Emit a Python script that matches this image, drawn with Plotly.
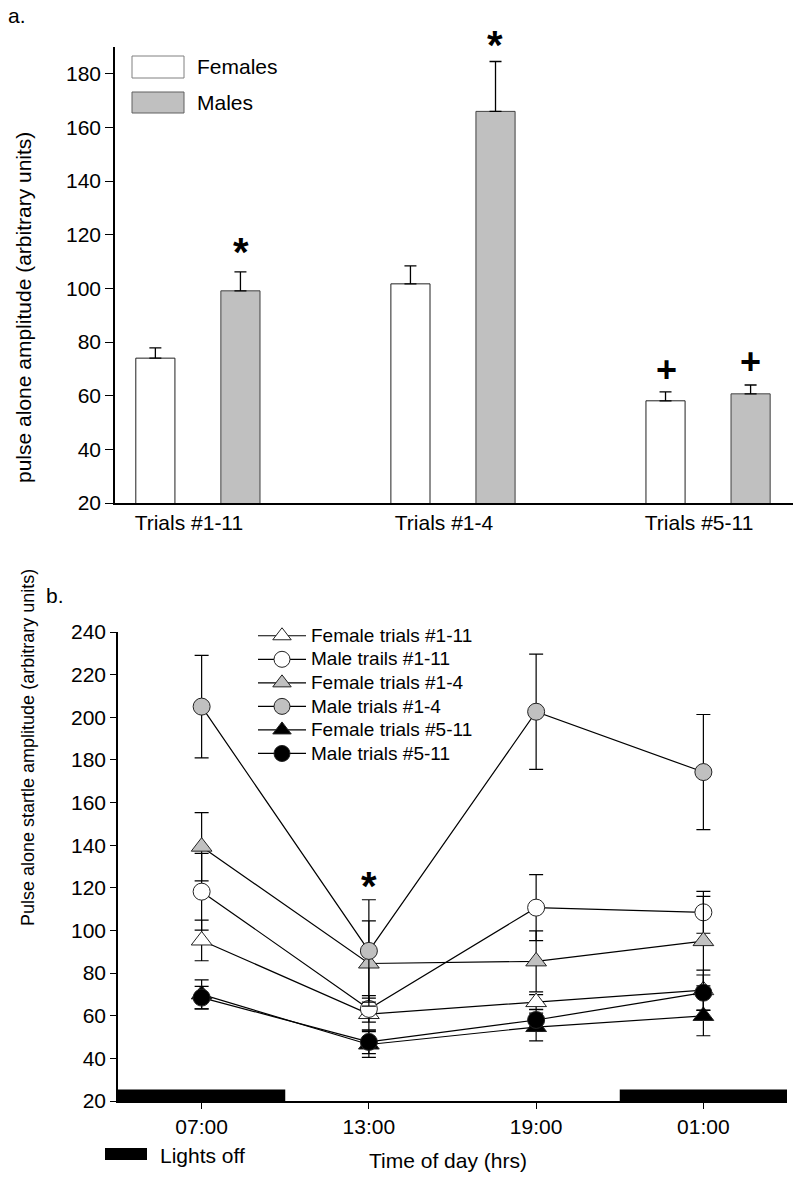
import plotly.graph_objects as go

W, H = 800, 1181
FONT = "Liberation Sans, Arial, Helvetica, sans-serif"

# ---------------- Panel a data ----------------
groups = ["Trials #1-11", "Trials #1-4", "Trials #5-11"]
female_amp = [74.0, 101.7, 58.1]
female_err = [3.8, 6.7, 3.3]
male_amp = [99.1, 166.0, 60.7]
male_err = [7.1, 18.6, 3.3]
a_yticks = [20, 40, 60, 80, 100, 120, 140, 160, 180]

# ---------------- Panel b data ----------------
time_hours = [7, 13, 19, 25]
time_labels = ["07:00", "13:00", "19:00", "01:00"]
lights_off_start = [4, 22]
lights_off_end = [10, 28]
b_yticks = [20, 40, 60, 80, 100, 120, 140, 160, 180, 200, 220, 240]

series_names = ["Female trials #1-11", "Male trails #1-11", "Female trials #1-4",
                "Male trials #1-4", "Female trials #5-11", "Male trials #5-11"]
f_1_11 = [95.3, 60.8, 66.4, 72.0]
f_1_11_err = [9.5, 7.5, 3.5, 9.4]
m_1_11 = [118.2, 63.2, 110.7, 108.5]
m_1_11_err = [18.0, 6.2, 15.5, 9.8]
f_1_4 = [139.3, 84.5, 85.5, 95.0]
f_1_4_err = [16.0, 20.0, 14.3, 21.0]
m_1_4 = [205.0, 90.4, 202.6, 174.3]
m_1_4_err = [24.0, 24.0, 27.0, 27.0]
f_5_11 = [70.0, 46.5, 54.7, 59.9]
f_5_11_err = [6.8, 6.0, 6.5, 9.3]
m_5_11 = [68.5, 47.7, 58.0, 70.8]
m_5_11_err = [5.3, 5.5, 5.0, 8.3]

GRAY = "#c0c0c0"


def px(x):
    return x / W


def py(y):
    return (H - y) / H


fig = go.Figure()

# ---- panel a bars ----
fig.add_trace(go.Bar(
    x=groups, y=female_amp, name="Females", showlegend=False,
    marker=dict(color="white", line=dict(color="#202020", width=1)),
    error_y=dict(type="data", symmetric=False, array=female_err,
                 arrayminus=[0] * len(female_err), color="black", thickness=1.3, width=6),
    xaxis="x", yaxis="y",
))
fig.add_trace(go.Bar(
    x=groups, y=male_amp, name="Males", showlegend=False,
    marker=dict(color=GRAY, line=dict(color="#404040", width=1)),
    error_y=dict(type="data", symmetric=False, array=male_err,
                 arrayminus=[0] * len(male_err), color="black", thickness=1.3, width=6),
    xaxis="x", yaxis="y",
))

# ---- panel b lines ----
styles = [
    ("triangle-up", "white", 18),
    ("circle", "white", 17),
    ("triangle-up", GRAY, 18),
    ("circle", GRAY, 17),
    ("triangle-up", "black", 18),
    ("circle", "black", 17),
]
vals = [f_1_11, m_1_11, f_1_4, m_1_4, f_5_11, m_5_11]
errs = [f_1_11_err, m_1_11_err, f_1_4_err, m_1_4_err, f_5_11_err, m_5_11_err]
for name, (sym, col, sz), v, e in zip(series_names, styles, vals, errs):
    fig.add_trace(go.Scatter(
        x=time_hours, y=v, name='<span style="font-size:19px">' + name + '</span>',
        mode="lines+markers",
        line=dict(color="black", width=1.2),
        marker=dict(symbol=sym, color=col, size=sz, line=dict(color="#222222", width=1)),
        error_y=dict(type="data", array=e, color="black", thickness=1.2, width=7),
        xaxis="x2", yaxis="y2", cliponaxis=False,
    ))

shapes = []
annotations = []

# lights-off bars on panel b x axis
for s, e in zip(lights_off_start, lights_off_end):
    shapes.append(dict(type="rect", xref="x2", yref="y2", x0=s, x1=e, y0=19.2, y1=25.4,
                       fillcolor="black", line=dict(width=0), layer="above"))

# panel a legend
shapes.append(dict(type="rect", xref="paper", yref="paper", x0=px(132), x1=px(184),
                   y0=py(78), y1=py(56), fillcolor="white", line=dict(color="#808080", width=1)))
shapes.append(dict(type="rect", xref="paper", yref="paper", x0=px(132), x1=px(184),
                   y0=py(113), y1=py(92), fillcolor=GRAY, line=dict(color="#606060", width=1)))
annotations.append(dict(text="Females", xref="paper", yref="paper", x=px(195), y=py(66),
                        xanchor="left", yanchor="middle", showarrow=False, font=dict(size=21)))
annotations.append(dict(text="Males", xref="paper", yref="paper", x=px(195), y=py(103),
                        xanchor="left", yanchor="middle", showarrow=False, font=dict(size=21)))

# lights off legend
shapes.append(dict(type="rect", xref="paper", yref="paper", x0=px(105), x1=px(147),
                   y0=py(1160), y1=py(1148), fillcolor="black", line=dict(width=0)))
annotations.append(dict(text="Lights off", xref="paper", yref="paper", x=px(158), y=py(1155),
                        xanchor="left", yanchor="middle", showarrow=False, font=dict(size=21)))

# panel labels
annotations.append(dict(text="a.", xref="paper", yref="paper", x=px(6), y=py(16),
                        xanchor="left", yanchor="middle", showarrow=False, font=dict(size=21)))
annotations.append(dict(text="b.", xref="paper", yref="paper", x=px(44), y=py(595),
                        xanchor="left", yanchor="middle", showarrow=False, font=dict(size=21)))

# axis titles
annotations.append(dict(text="pulse alone amplitude (arbitrary units)", xref="paper", yref="paper",
                        x=px(23), y=py(308), textangle=-90, showarrow=False,
                        xanchor="center", yanchor="middle", font=dict(size=21)))
annotations.append(dict(text="Pulse alone startle amplitude (arbitrary units)", xref="paper",
                        yref="paper", x=px(28), y=py(748), textangle=-90, showarrow=False,
                        xanchor="center", yanchor="middle", font=dict(size=18)))
annotations.append(dict(text="Time of day (hrs)", xref="paper", yref="paper", x=px(448), y=py(1160),
                        showarrow=False, xanchor="center", yanchor="middle", font=dict(size=21)))

# significance marks panel a
annotations.append(dict(text="<b>*</b>", xref="paper", yref="paper", x=px(241), y=py(252),
                        showarrow=False, xanchor="center", yanchor="middle", font=dict(size=40)))
annotations.append(dict(text="<b>*</b>", xref="paper", yref="paper", x=px(495), y=py(45),
                        showarrow=False, xanchor="center", yanchor="middle", font=dict(size=40)))
annotations.append(dict(text="<b>+</b>", xref="paper", yref="paper", x=px(666), y=py(370),
                        showarrow=False, xanchor="center", yanchor="middle", font=dict(size=36)))
annotations.append(dict(text="<b>+</b>", xref="paper", yref="paper", x=px(750), y=py(362),
                        showarrow=False, xanchor="center", yanchor="middle", font=dict(size=36)))
# panel b
annotations.append(dict(text="<b>*</b>", xref="paper", yref="paper", x=px(369), y=py(886),
                        showarrow=False, xanchor="center", yanchor="middle", font=dict(size=40)))

axis_common = dict(showgrid=False, zeroline=False, showline=True, linecolor="black",
                   linewidth=1.5, tickfont=dict(size=21, color="black"), automargin=False)

fig.update_layout(
    template="none",
    width=W, height=H,
    margin=dict(l=0, r=0, t=0, b=0, pad=0),
    paper_bgcolor="white", plot_bgcolor="white",
    font=dict(family=FONT, color="black"),
    barmode="group", bargap=0.333, bargroupgap=0.54,
    xaxis=dict(domain=[px(115), px(793)], anchor="y", type="category",
               range=[-0.325, 2.333], ticks="", ticklabelshift=-9, **axis_common),
    yaxis=dict(domain=[py(503), py(47)], anchor="x", range=[20, 190],
               tickvals=a_yticks, ticks="outside", ticklen=8, tickwidth=1.2,
               tickcolor="black", **axis_common),
    xaxis2=dict(domain=[px(118), px(787)], anchor="y2", range=[4, 28],
                tickvals=time_hours, ticktext=time_labels, ticks="outside", ticklen=6,
                tickwidth=1.2, tickcolor="black", **axis_common),
    yaxis2=dict(domain=[py(1101), py(632)], anchor="x2", range=[20, 240],
                tickvals=b_yticks, ticks="outside", ticklen=6, tickwidth=1.2,
                tickcolor="black", **axis_common),
    legend=dict(x=px(253), y=py(619), xanchor="left", yanchor="top",
                bgcolor="rgba(0,0,0,0)", borderwidth=0, font=dict(size=15.8, color="black"),
                tracegroupgap=0, itemsizing="trace", itemwidth=48),
    shapes=shapes,
    annotations=annotations,
)

fig.write_html("out.html", config={"displayModeBar": False},
               post_script="document.body.style.margin='0px';")
